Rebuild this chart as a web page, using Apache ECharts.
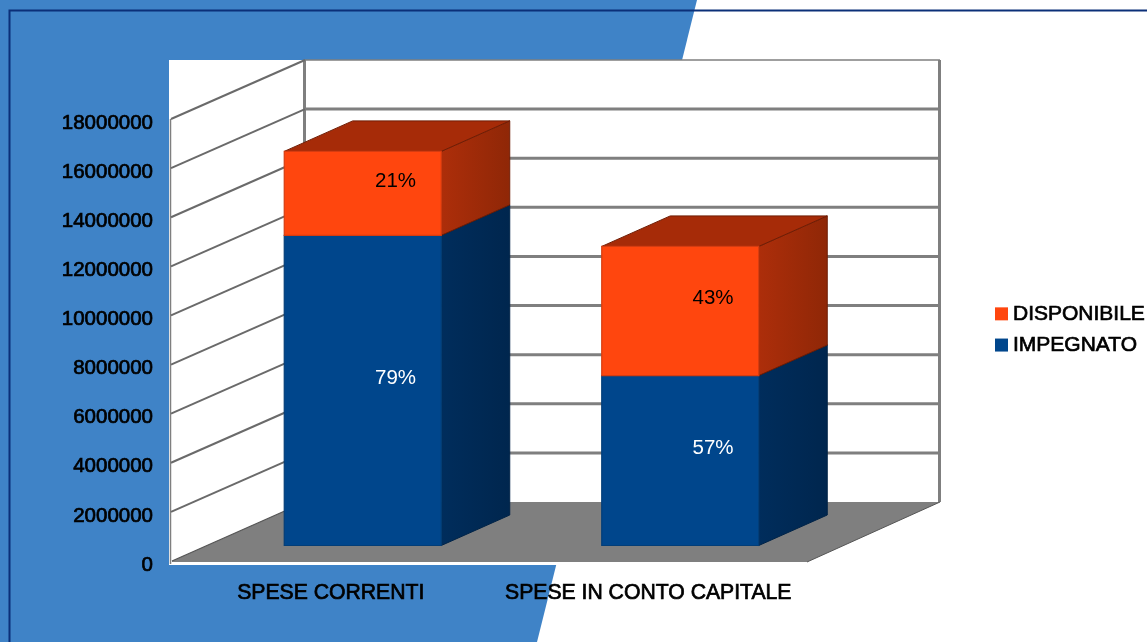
<!DOCTYPE html>
<html>
<head>
<meta charset="utf-8">
<style>html,body{margin:0;padding:0;background:#fff}#c{width:1147px;height:642px}</style>
<script src="https://cdn.jsdelivr.net/npm/echarts@6/dist/echarts.min.js"></script>
</head>
<body>
<div id="c"></div>
<script>
var categories = ['SPESE CORRENTI', 'SPESE IN CONTO CAPITALE'];
var impegnato = [12630000, 6920000];
var disponibile = [3420000, 5260000];
var impegnatoLabels = ['79%', '57%'];
var disponibileLabels = ['21%', '43%'];
var yTicks = [0, 2000000, 4000000, 6000000, 8000000, 10000000, 12000000, 14000000, 16000000, 18000000];

var FONT = '"Liberation Sans", Arial, sans-serif';
var FS = 20.5, FS_WIDE = 21.2, FS_LEGEND = 21;
var WALL = [133, -59], BAR_OFF = [32, -15.5], BAR_DEPTH = [68.5, -30.5], BAR_FRAC = 0.4945;
var LABEL_SHIFT = [-1.5, 3];
var GRAY = '#7f7f7f';

function pts(a) { return { points: a }; }

function renderWall(params, api) {
  var cs = params.coordSys, x0 = cs.x, x1 = cs.x + cs.width;
  var v = api.value(1), y = api.coord([0, v])[1];
  var bx0 = x0 + WALL[0], bx1 = x1 + WALL[0], by = y + WALL[1];
  var kids = [];
  if (params.dataIndex === 0) {
    var top = api.coord([0, yTicks[yTicks.length - 1]])[1] + WALL[1];
    kids.push({ type: 'rect', shape: { x: x0 - 3, y: top, width: bx1 - x0 + 3, height: y + 4 - top }, style: { fill: '#fff' } });
    kids.push({ type: 'polygon', shape: pts([[x0, y], [bx0, by], [bx1, by], [x1, y + 1], [x0, y + 1]]), style: { fill: GRAY } });
    kids.push({ type: 'line', shape: { x1: x0 - 1.5, y1: api.coord([0, yTicks[yTicks.length - 1]])[1], x2: x0 - 1.5, y2: y + 3 }, style: { stroke: GRAY, lineWidth: 1.5 } });
    kids.push({ type: 'line', shape: { x1: bx0 - 0.5, y1: top, x2: bx0 - 0.5, y2: by }, style: { stroke: GRAY, lineWidth: 3 } });
    kids.push({ type: 'line', shape: { x1: bx1 - 0.5, y1: top, x2: bx1 - 0.5, y2: by }, style: { stroke: GRAY, lineWidth: 3 } });
    kids.push({ type: 'line', shape: { x1: x0, y1: y, x2: bx0, y2: by }, style: { stroke: '#555', lineWidth: 1.2 } });
    kids.push({ type: 'line', shape: { x1: x1, y1: y + 1, x2: bx1, y2: by }, style: { stroke: '#555', lineWidth: 1 } });
  } else {
    var isTop = params.dataIndex === yTicks.length - 1;
    kids.push({ type: 'line', shape: { x1: bx0, y1: by, x2: bx1, y2: by }, style: { stroke: GRAY, lineWidth: isTop ? 1.5 : 3 } });
    kids.push({ type: 'line', shape: { x1: x0 - 1, y1: y, x2: bx0, y2: by }, style: { stroke: '#6a6a6a', lineWidth: 2 } });
  }
  return { type: 'group', children: kids };
}

function barRenderer(colors, labels, labelColor) {
  return function (params, api) {
    var i = api.value(0);
    var bw = api.size([1, 0])[0] * BAR_FRAC;
    var b = api.coord([i, api.value(1)]), t = api.coord([i, api.value(2)]);
    var xl = b[0] - bw / 2 + BAR_OFF[0], xr = xl + bw;
    var yb = b[1] + BAR_OFF[1], yt = t[1] + BAR_OFF[1];
    var dx = BAR_DEPTH[0], dy = BAR_DEPTH[1];
    return {
      type: 'group',
      children: [
        { type: 'polygon', shape: pts([[xr, yt], [xr + dx, yt + dy], [xr + dx, yb + dy], [xr, yb]]),
          style: { fill: colors.side, stroke: colors.edge, lineWidth: 1 } },
        { type: 'polygon', shape: pts([[xl, yt], [xl + dx, yt + dy], [xr + dx, yt + dy], [xr, yt]]),
          style: { fill: colors.top, stroke: colors.edge, lineWidth: 1 } },
        { type: 'rect', shape: { x: xl, y: yt, width: bw, height: yb - yt },
          style: { fill: colors.front, stroke: colors.frontEdge, lineWidth: 1.2 } },
        { type: 'text', style: { text: labels[i], x: (xl + xr + dx) / 2 + LABEL_SHIFT[0], y: (yt + yb + dy) / 2 + LABEL_SHIFT[1],
            fill: labelColor, fontSize: FS, fontFamily: FONT, align: 'center', verticalAlign: 'middle' } }
      ]
    };
  };
}

var C_ORANGE = { front: '#ff460e', frontEdge: '#d63c10', top: '#a62b08', edge: '#6f1d05',
  side: { type: 'linear', x: 0, y: 0, x2: 1, y2: 0, colorStops: [{ offset: 0, color: '#ad2e0a' }, { offset: 1, color: '#8f2707' }] } };
var C_BLUE = { front: '#00468c', frontEdge: '#033e78', top: '#002a54', edge: '#002347',
  side: { type: 'linear', x: 0, y: 0, x2: 1, y2: 0, colorStops: [{ offset: 0, color: '#002d5c' }, { offset: 1, color: '#00264e' }] } };

var impegnatoData = categories.map(function (c, i) { return [i, 0, impegnato[i]]; });
var disponibileData = categories.map(function (c, i) { return [i, impegnato[i], impegnato[i] + disponibile[i]]; });
var wallData = yTicks.map(function (v) { return [0, v]; });

var chart = echarts.init(document.getElementById('c'), null, { renderer: 'canvas' });
chart.setOption({
  animation: false,
  backgroundColor: '#ffffff',
  graphic: { elements: [
    { type: 'polygon', z: -10, silent: true, shape: { points: [[0, 0], [697, 0], [537, 642], [0, 642]] }, style: { fill: '#3f83c7' } },
    { type: 'polyline', z: -9, silent: true, shape: { points: [[1147, 10.5], [9.5, 10.5], [9.5, 642]] }, style: { stroke: '#0b2f78', lineWidth: 2, fill: null } }
  ] },
  grid: { left: 172, top: 119, width: 635, height: 442, containLabel: false },
  legend: {
    left: 995, top: 303, padding: 0, orient: 'vertical', itemWidth: 13, itemHeight: 13, itemGap: 9.5, selectedMode: false,
    data: [{ name: 'DISPONIBILE', icon: 'rect' }, { name: 'IMPEGNATO', icon: 'rect' }],
    textStyle: { color: '#000', fontSize: FS_LEGEND, fontFamily: FONT, textBorderColor: '#000', textBorderWidth: 0.7 }
  },
  xAxis: {
    type: 'category', data: categories,
    axisLine: { show: false }, axisTick: { show: false }, splitLine: { show: false },
    axisLabel: { margin: 22, color: '#000', fontSize: FS_WIDE, fontFamily: FONT, textBorderColor: '#000', textBorderWidth: 0.7, interval: 0 }
  },
  yAxis: {
    type: 'value', min: 0, max: 18000000, interval: 2000000,
    axisLine: { show: false }, axisTick: { show: false }, splitLine: { show: false },
    axisLabel: { margin: 19, color: '#000', fontSize: FS, fontFamily: FONT, textBorderColor: '#000', textBorderWidth: 0.7,
      verticalAlign: 'top', lineHeight: 8, formatter: function (v) { return String(v); } }
  },
  series: [
    { type: 'custom', name: 'wall', z: 1, silent: true, clip: false, data: wallData,
      encode: { x: 0, y: 1 }, renderItem: renderWall },
    { type: 'custom', name: 'IMPEGNATO', z: 3, silent: true, clip: false, data: impegnatoData,
      itemStyle: { color: '#00468c' }, encode: { x: 0, y: [1, 2] },
      renderItem: barRenderer(C_BLUE, impegnatoLabels, '#ffffff') },
    { type: 'custom', name: 'DISPONIBILE', z: 4, silent: true, clip: false, data: disponibileData,
      itemStyle: { color: '#ff460e' }, encode: { x: 0, y: [1, 2] },
      renderItem: barRenderer(C_ORANGE, disponibileLabels, '#000000') }
  ]
});
</script>
</body>
</html>
